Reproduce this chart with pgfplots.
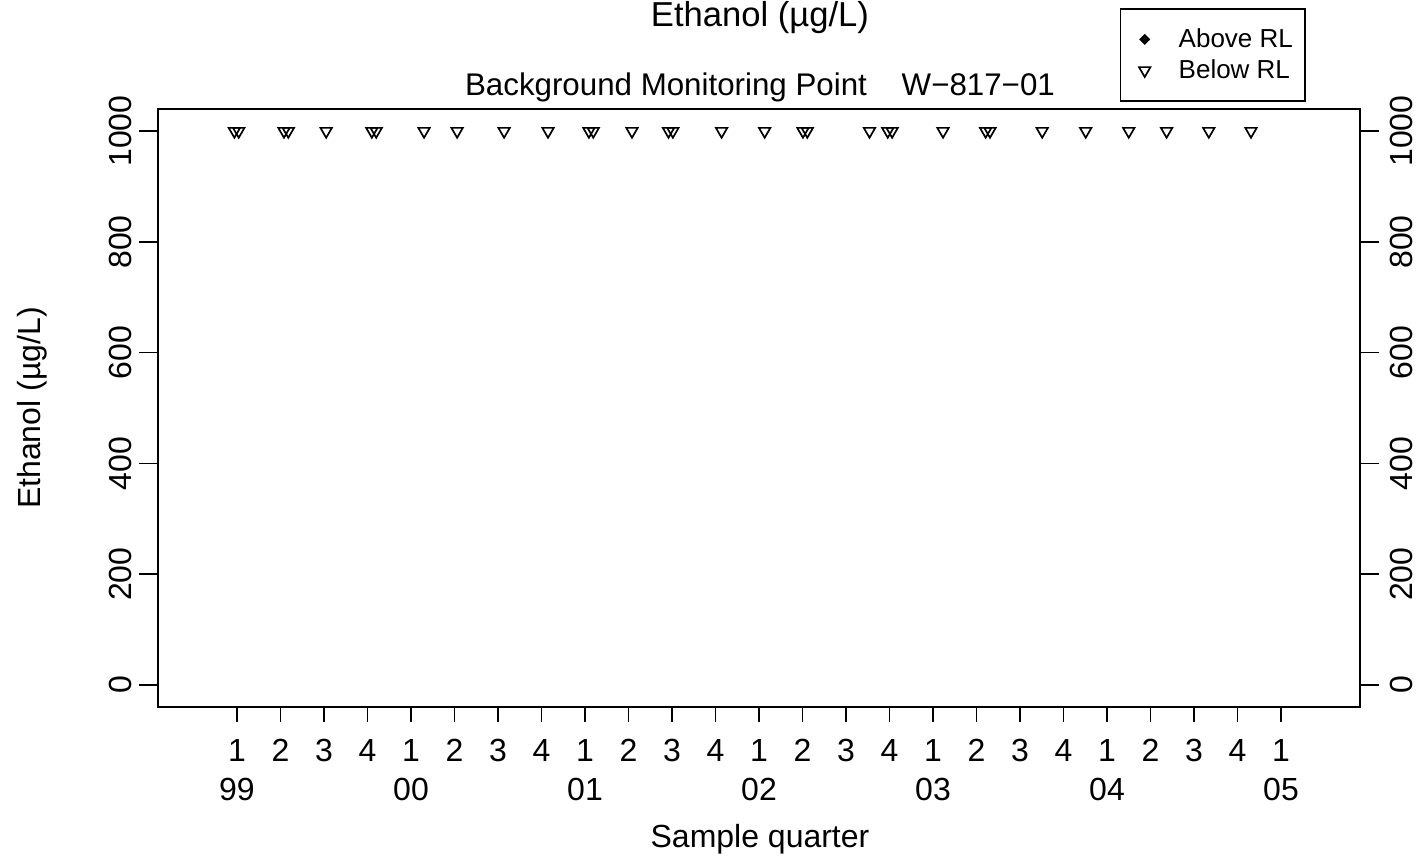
\documentclass[border=0pt]{standalone}
\usepackage{pgfplots}
\pgfplotsset{compat=1.18}
\usepackage{fontspec}
\setmainfont{Liberation Sans}
\begin{document}
\begin{tikzpicture}
\pgfplotsset{
  base/.style={scale only axis, width=601pt, height=299pt,
    at={(79pt,-353.5pt)}, anchor=south west,
    xmin=-1.816, xmax=25.816, ymin=-40, ymax=1040,
    axis line style={line width=0.75pt, black},
    every tick/.style={line width=0.75pt, black},
    tick align=outside,
    /pgf/number format/assume math mode=true,
    /pgf/number format/1000 sep={},
    font=\fontsize{16}{19}\selectfont},
  myleg/.style={legend image code/.code={\draw[##1] plot coordinates {(0pt,0pt)}; \path[draw=none,fill=none] (-6pt,-7.75pt) rectangle (17pt,7.75pt);}}
}
\begin{axis}[base,
  xtick={0,...,24},
  xticklabels={1,2,3,4,1,2,3,4,1,2,3,4,1,2,3,4,1,2,3,4,1,2,3,4,1},
  xtick pos=bottom, ytick=\empty,
  major tick length=7.5pt,
  xticklabel style={anchor=base, yshift=-19.5pt},
  extra x ticks={0,4,8,12,16,20,24},
  extra x tick labels={99,00,01,02,03,04,05},
  extra x tick style={major tick length=0pt, xticklabel style={yshift=-27pt}},
  legend cell align=left,
  legend style={at={(0.8003,1.1686)}, anchor=north west, draw=black, line width=0.75pt,
    inner xsep=6pt, inner ysep=7.5pt, row sep=0pt,
    font=\fontsize{13}{15.5}\selectfont, nodes={inner sep=0pt}},
]
\addlegendimage{only marks, mark=square*, mark size=1.7pt, mark options={rotate=45, fill=black, draw=black, line width=0.5pt}, myleg}
\addlegendentry{Above RL}
\addplot[only marks, black, mark=triangle, mark size=3.3pt, mark options={rotate=180, line width=0.85pt}, myleg] coordinates {
(-0.06,1000) (0.04,1000) (1.08,1000) (1.18,1000) (2.05,1000) (3.10,1000) (3.20,1000)
(4.30,1000) (5.06,1000) (6.14,1000) (7.15,1000) (8.09,1000) (8.19,1000) (9.08,1000)
(9.92,1000) (10.02,1000) (11.14,1000) (12.13,1000) (13.01,1000) (13.11,1000)
(14.54,1000) (14.96,1000) (15.06,1000) (16.23,1000) (17.21,1000) (17.31,1000)
(18.51,1000) (19.51,1000) (20.50,1000) (21.37,1000) (22.34,1000) (23.31,1000)
};
\addlegendentry{Below RL}
\end{axis}
\begin{axis}[base, hide x axis, axis y line*=left,
  ytick={0,200,...,1000}, major tick length=9.5pt,
  yticklabel style={xshift=-3.5pt, rotate=90, anchor=base}]
\addplot[draw=none] coordinates {(0,0)};
\end{axis}
\begin{axis}[base, hide x axis, axis y line*=right,
  ytick={0,200,...,1000}, major tick length=9.5pt,
  yticklabel style={xshift=16.5pt, rotate=90, anchor=base}]
\addplot[draw=none] coordinates {(0,0)};
\end{axis}
\begin{scope}[x=0.5pt,y=-0.5pt]
\node[anchor=base, inner sep=0pt, font=\fontsize{17.3}{20}\selectfont] at (760,26) {Ethanol (µg/L)};
\node[anchor=base, inner sep=0pt, font=\fontsize{15.65}{18}\selectfont] at (760,95) {Background Monitoring Point\hspace{1.112em}W−817−01};
\node[anchor=base, inner sep=0pt, font=\fontsize{16}{19}\selectfont] at (760,847) {Sample quarter};
\node[anchor=base, inner sep=0pt, rotate=90, font=\fontsize{16}{19}\selectfont] at (40,408) {Ethanol (µg/L)};
\end{scope}
\pgfresetboundingbox
\begin{scope}[x=0.5pt,y=-0.5pt]
\path[use as bounding box] (0,0) rectangle (1428,863);
\end{scope}
\end{tikzpicture}
\end{document}
